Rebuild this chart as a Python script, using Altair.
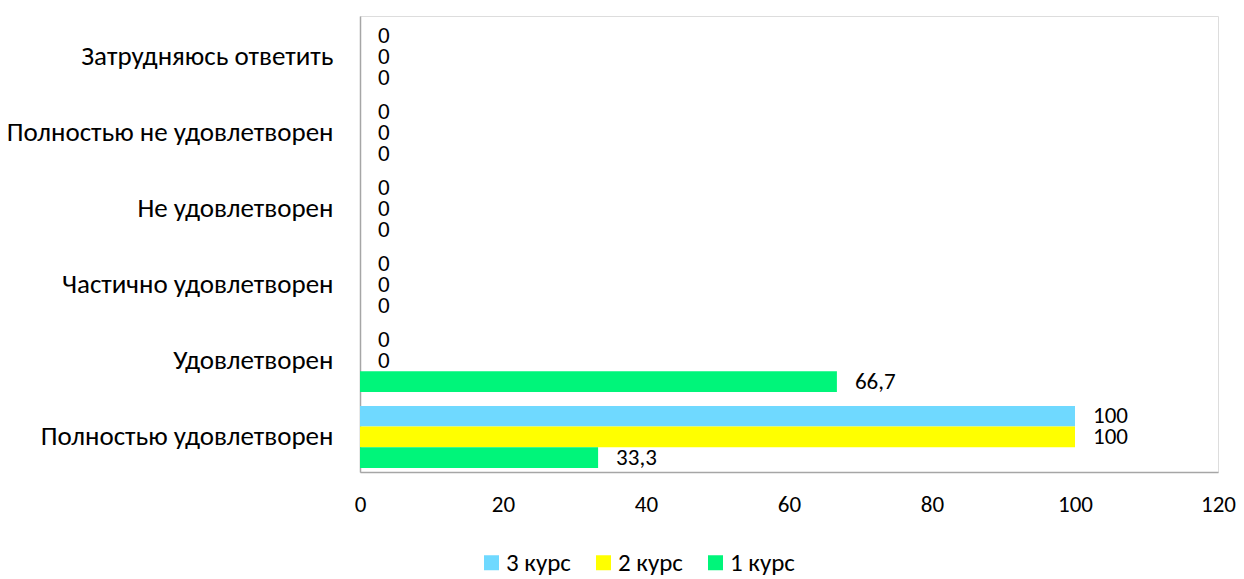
import altair as alt
import pandas as pd

categories = ["Затрудняюсь ответить", "Полностью не удовлетворен", "Не удовлетворен",
              "Частично удовлетворен", "Удовлетворен ", "Полностью удовлетворен"]
series = ["3 курс", "2 курс", "1 курс"]
colors = ["#6FD9FF", "#FFFF00", "#00F57A"]
vals_3 = [0, 0, 0, 0, 0, 100]
vals_2 = [0, 0, 0, 0, 0, 100]
vals_1 = [0, 0, 0, 0, 66.7, 33.3]

rows = []
for s, vals in zip(series, [vals_3, vals_2, vals_1]):
    for c, v in zip(categories, vals):
        rows.append({"category": c, "series": s, "value": v})
df = pd.DataFrame(rows)

FONT = "Carlito, Lato, Open Sans"

y = alt.Y("category:N", sort=categories, title=None,
          scale=alt.Scale(paddingInner=0.184, paddingOuter=0.092, align=0.71),
          axis=alt.Axis(domainColor="#A6A6A6", domainWidth=1.5, ticks=False,
                        labelFontSize=27, labelColor="#000000", labelFont=FONT,
                        labelPadding=27, labelLimit=400))
x = alt.X("value:Q", title=None,
          scale=alt.Scale(domain=[0, 120], nice=False),
          axis=alt.Axis(values=[0, 20, 40, 60, 80, 100, 120], grid=False, ticks=False,
                        domainColor="#A6A6A6", domainWidth=1.5, labelFlush=False,
                        labelFontSize=23, labelColor="#000000", labelFont=FONT,
                        labelPadding=21))
yoff = alt.YOffset("series:N", sort=series)

bars = alt.Chart(df).mark_bar().encode(
    x=x, y=y, yOffset=yoff,
    color=alt.Color("series:N", sort=series,
                    scale=alt.Scale(domain=series, range=colors),
                    legend=alt.Legend(title=None, orient="none", direction="horizontal",
                                      legendX=119, legendY=534,
                                      symbolType="square", symbolSize=225,
                                      symbolStrokeWidth=0,
                                      labelFontSize=25, labelFont=FONT, labelColor="#000000",
                                      columnPadding=20, labelOffset=2)),
)

text = alt.Chart(df).transform_calculate(
    label="replace(toString(datum.value), '.', ',')"
).mark_text(align="left", baseline="middle", dx=18, fontSize=23, font=FONT,
            color="#000000").encode(
    x="value:Q", y=alt.Y("category:N", sort=categories), yOffset=yoff,
    text="label:N",
)

chart = alt.layer(bars, text).properties(
    width=858, height=456,
    autosize=alt.AutoSizeParams(type="none"),
    padding={"left": 352, "top": 8, "right": 18, "bottom": 106},
).configure_view(stroke=None).configure(background="#FFFFFF")

chart.save("out.html", embed_options={"renderer": "svg", "actions": False})
